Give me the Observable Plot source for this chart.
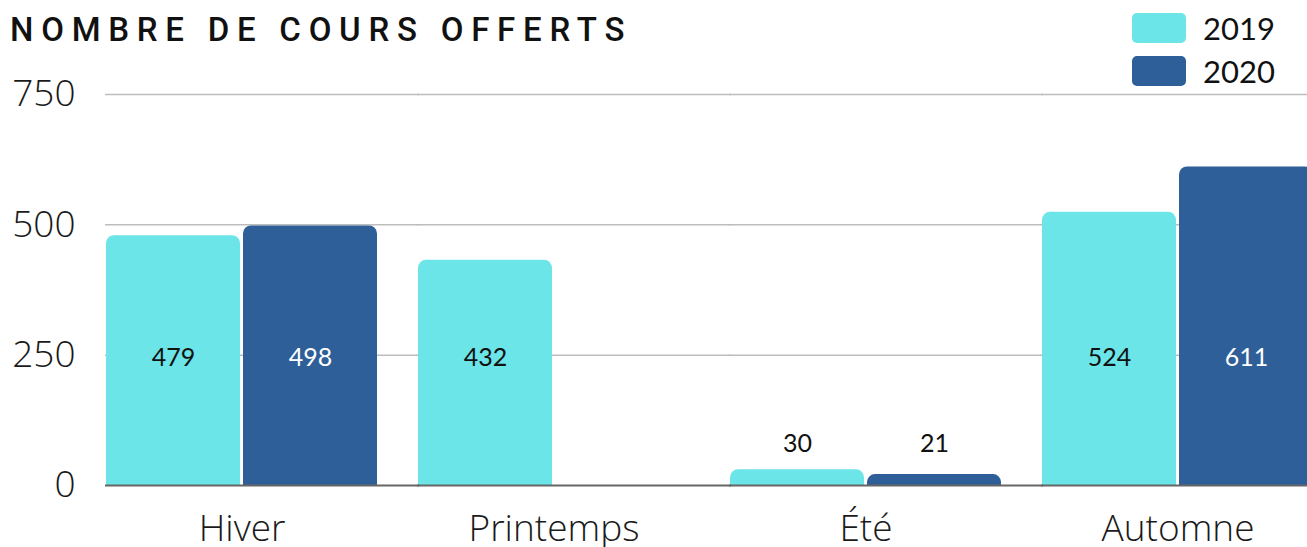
<!DOCTYPE html>
<html>
<head>
<meta charset="utf-8">
<script src="https://cdn.jsdelivr.net/npm/d3@7"></script>
<script src="https://cdn.jsdelivr.net/npm/@observablehq/plot@0.6"></script>
<style>
  html, body { margin: 0; padding: 0; background: #fff; overflow: hidden; }
  #wrap { position: relative; width: 1307px; height: 547px; overflow: hidden; }
  #title { position: absolute; left: 10px; top: 10px; font-family: "Roboto", sans-serif; font-weight: 500; font-size: 33px; letter-spacing: 7.75px; color: #111; white-space: nowrap; }
  .leg { position: absolute; left: 1132px; height: 30px; display: flex; align-items: center; font-family: "Lato", sans-serif; font-size: 31px; color: #111; }
  .sw { width: 54px; height: 30px; border-radius: 5px; margin-right: 17px; }
  #chart { position: absolute; left: 0; top: 0; }
  #chart svg { max-width: none !important; }
</style>
</head>
<body>
<div id="wrap">
  <div id="chart"></div>
  <div id="title">NOMBRE DE COURS OFFERTS</div>
  <div id="legend"></div>
</div>
<script>
const seasons = ["Hiver", "Printemps", "Été", "Automne"];
const years = ["2019", "2020"];
const values2019 = [479, 432, 30, 524];
const values2020 = [498, null, 21, 611];
const yTicks = [0, 250, 500, 750];
const colors = ["#6be5e8", "#2e5f98"];

const data = [];
seasons.forEach((s, i) => {
  data.push({season: s, year: years[0], value: values2019[i]});
  data.push({season: s, year: years[1], value: values2020[i]});
});
const present = data.filter(d => d.value != null);

// legend
const legend = document.getElementById("legend");
years.forEach((y, i) => {
  const row = document.createElement("div");
  row.className = "leg";
  row.style.top = (13 + i * 43) + "px";
  row.innerHTML = `<div class="sw" style="background:${colors[i]}"></div><span>${y}</span>`;
  legend.appendChild(row);
});

const chart = Plot.plot({
  width: 1314,
  height: 547,
  marginLeft: 106,
  marginRight: 0,
  marginTop: 94,
  marginBottom: 62,
  style: {fontFamily: "'Open Sans', sans-serif", background: "transparent", overflow: "visible", maxWidth: "none"},
  fx: {domain: seasons, paddingInner: 0.132, paddingOuter: 0, align: 0, label: null},
  x: {domain: years, paddingInner: 0.022, paddingOuter: 0, axis: null},
  y: {domain: [0, 750], axis: null},
  color: {domain: years, range: colors},
  marks: [
    Plot.ruleY(yTicks.filter(t => t > 0), {stroke: "#bdbdbd", strokeWidth: 1.5, strokeOpacity: 1, insetLeft: -1, insetRight: -42}),
    Plot.axisY({ticks: yTicks, tickSize: 0, tickPadding: 31, fontSize: 37, fontWeight: 300, fill: "#1a1a1a", label: null}),
    Plot.axisFx({anchor: "bottom", tickSize: 0, tickPadding: 29, fontSize: 37, fontWeight: 300, fill: "#1a1a1a", label: null}),
    Plot.barY(present, {fx: "season", x: "year", y: "value", fill: "year", ry1: 8}),
    Plot.ruleY([0], {stroke: "#666", strokeWidth: 2, insetLeft: -1, insetRight: -42}),
    Plot.text(present, {
      fx: "season", x: "year",
      y: d => d.value >= 100 ? 245 : 80,
      text: d => String(d.value),
      fill: d => (d.value >= 100 && d.year === "2020") ? "#ffffff" : "#111111",
      fontSize: 25,
      fontFamily: "Lato, sans-serif"
    })
  ]
});
document.getElementById("chart").appendChild(chart);
</script>
</body>
</html>
